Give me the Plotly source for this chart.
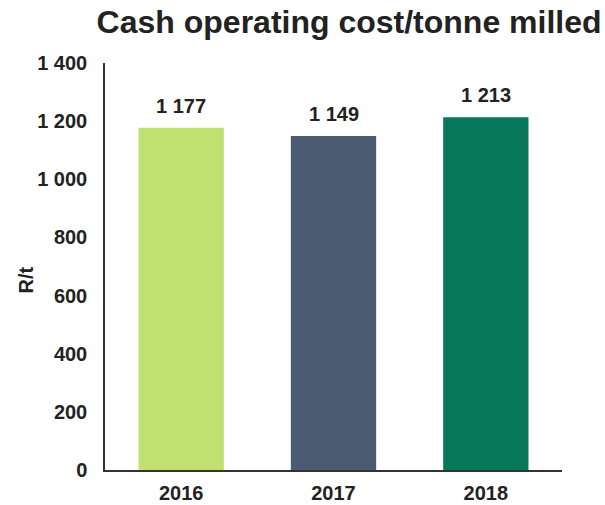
import plotly.graph_objects as go

categories = ["2016", "2017", "2018"]
values = [1177, 1149, 1213]
value_labels = ["1 177", "1 149", "1 213"]
bar_colors = ["#C0E070", "#4B5B72", "#08785A"]
y_tickvals = [0, 200, 400, 600, 800, 1000, 1200, 1400]
y_ticktext = ["0", "200", "400", "600", "800", "1 000", "1 200", "1 400"]

FONT = "Liberation Sans, Arial, sans-serif"
TXT = "#222222"

fig = go.Figure()
fig.add_trace(go.Bar(
    x=categories, y=values, marker=dict(color=bar_colors, line=dict(width=0)),
    width=0.56, hoverinfo="skip",
))
for i, (v, t) in enumerate(zip(values, value_labels)):
    fig.add_annotation(x=i, y=v, text=f"<b>{t}</b>", showarrow=False,
                       xanchor="center", yanchor="middle",
                       yshift=22, font=dict(family=FONT, size=20, color=TXT))

fig.add_annotation(xref="paper", yref="paper", x=0, y=0.5, xshift=-80, yshift=-14,
                   xanchor="center", yanchor="middle",
                   text="<b>R/t</b>", textangle=-90, showarrow=False,
                   font=dict(family=FONT, size=20, color=TXT))

fig.update_layout(
    width=605, height=505,
    margin=dict(l=105, r=43, t=63, b=35, autoexpand=False),
    paper_bgcolor="white", plot_bgcolor="white",
    showlegend=False,
    title=dict(text="<b>Cash operating cost/tonne milled</b>", x=0.577, xanchor="center",
               y=0.957, yanchor="middle",
               font=dict(family=FONT, size=32, color=TXT)),
    font=dict(family=FONT, size=20, color=TXT),
)
fig.update_xaxes(
    type="category", automargin=False,
    tickvals=categories, ticktext=[f"<b>{c}</b>" for c in categories],
    showline=True, linecolor="#333333", linewidth=1.5, showgrid=False,
    ticks="outside", ticklen=4, tickcolor="rgba(0,0,0,0)",
    tickfont=dict(family=FONT, size=20, color=TXT), tickangle=0,
)
fig.update_yaxes(
    range=[0, 1400], automargin=False,
    tickvals=y_tickvals, ticktext=[f"<b>{t}</b>" for t in y_ticktext],
    showline=True, linecolor="#333333", linewidth=1.5, showgrid=False, zeroline=False,
    ticks="outside", ticklen=12, tickcolor="rgba(0,0,0,0)",
    tickfont=dict(family=FONT, size=20, color=TXT),
)

fig.write_html("out.html", config={"displayModeBar": False},
               post_script="document.body.style.margin='0';document.body.style.overflow='hidden';")
